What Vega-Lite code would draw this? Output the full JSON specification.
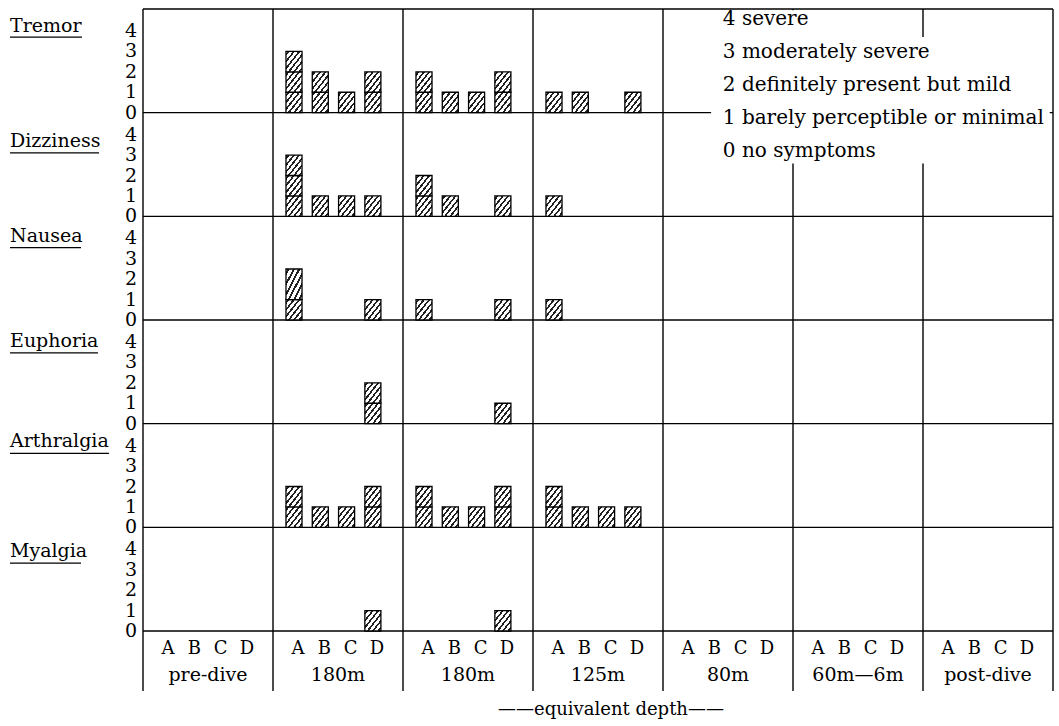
{
"$schema": "https://vega.github.io/schema/vega-lite/v6.json",
"width": 910, "height": 682,
"autosize": {"type": "none"},
"padding": {"left": 143, "top": 9, "right": 6, "bottom": 35},
"config": {"view": {"stroke": null}, "font": "DejaVu Serif", "text": {"font": "DejaVu Serif", "color": "black"}},
"datasets": {
"scores": [
{"symptom":"Tremor","stage":"180m-a","subject":"A","from":0,"to":1},
{"symptom":"Tremor","stage":"180m-a","subject":"A","from":1,"to":2},
{"symptom":"Tremor","stage":"180m-a","subject":"A","from":2,"to":3},
{"symptom":"Tremor","stage":"180m-a","subject":"B","from":0,"to":1},
{"symptom":"Tremor","stage":"180m-a","subject":"B","from":1,"to":2},
{"symptom":"Tremor","stage":"180m-a","subject":"C","from":0,"to":1},
{"symptom":"Tremor","stage":"180m-a","subject":"D","from":0,"to":1},
{"symptom":"Tremor","stage":"180m-a","subject":"D","from":1,"to":2},
{"symptom":"Tremor","stage":"180m-b","subject":"A","from":0,"to":1},
{"symptom":"Tremor","stage":"180m-b","subject":"A","from":1,"to":2},
{"symptom":"Tremor","stage":"180m-b","subject":"B","from":0,"to":1},
{"symptom":"Tremor","stage":"180m-b","subject":"C","from":0,"to":1},
{"symptom":"Tremor","stage":"180m-b","subject":"D","from":0,"to":1},
{"symptom":"Tremor","stage":"180m-b","subject":"D","from":1,"to":2},
{"symptom":"Tremor","stage":"125m","subject":"A","from":0,"to":1},
{"symptom":"Tremor","stage":"125m","subject":"B","from":0,"to":1},
{"symptom":"Tremor","stage":"125m","subject":"D","from":0,"to":1},
{"symptom":"Dizziness","stage":"180m-a","subject":"A","from":0,"to":1},
{"symptom":"Dizziness","stage":"180m-a","subject":"A","from":1,"to":2},
{"symptom":"Dizziness","stage":"180m-a","subject":"A","from":2,"to":3},
{"symptom":"Dizziness","stage":"180m-a","subject":"B","from":0,"to":1},
{"symptom":"Dizziness","stage":"180m-a","subject":"C","from":0,"to":1},
{"symptom":"Dizziness","stage":"180m-a","subject":"D","from":0,"to":1},
{"symptom":"Dizziness","stage":"180m-b","subject":"A","from":0,"to":1},
{"symptom":"Dizziness","stage":"180m-b","subject":"A","from":1,"to":2},
{"symptom":"Dizziness","stage":"180m-b","subject":"B","from":0,"to":1},
{"symptom":"Dizziness","stage":"180m-b","subject":"D","from":0,"to":1},
{"symptom":"Dizziness","stage":"125m","subject":"A","from":0,"to":1},
{"symptom":"Nausea","stage":"180m-a","subject":"A","from":0,"to":1},
{"symptom":"Nausea","stage":"180m-a","subject":"A","from":1,"to":2.5},
{"symptom":"Nausea","stage":"180m-a","subject":"D","from":0,"to":1},
{"symptom":"Nausea","stage":"180m-b","subject":"A","from":0,"to":1},
{"symptom":"Nausea","stage":"180m-b","subject":"D","from":0,"to":1},
{"symptom":"Nausea","stage":"125m","subject":"A","from":0,"to":1},
{"symptom":"Euphoria","stage":"180m-a","subject":"D","from":0,"to":1},
{"symptom":"Euphoria","stage":"180m-a","subject":"D","from":1,"to":2},
{"symptom":"Euphoria","stage":"180m-b","subject":"D","from":0,"to":1},
{"symptom":"Arthralgia","stage":"180m-a","subject":"A","from":0,"to":1},
{"symptom":"Arthralgia","stage":"180m-a","subject":"A","from":1,"to":2},
{"symptom":"Arthralgia","stage":"180m-a","subject":"B","from":0,"to":1},
{"symptom":"Arthralgia","stage":"180m-a","subject":"C","from":0,"to":1},
{"symptom":"Arthralgia","stage":"180m-a","subject":"D","from":0,"to":1},
{"symptom":"Arthralgia","stage":"180m-a","subject":"D","from":1,"to":2},
{"symptom":"Arthralgia","stage":"180m-b","subject":"A","from":0,"to":1},
{"symptom":"Arthralgia","stage":"180m-b","subject":"A","from":1,"to":2},
{"symptom":"Arthralgia","stage":"180m-b","subject":"B","from":0,"to":1},
{"symptom":"Arthralgia","stage":"180m-b","subject":"C","from":0,"to":1},
{"symptom":"Arthralgia","stage":"180m-b","subject":"D","from":0,"to":1},
{"symptom":"Arthralgia","stage":"180m-b","subject":"D","from":1,"to":2},
{"symptom":"Arthralgia","stage":"125m","subject":"A","from":0,"to":1},
{"symptom":"Arthralgia","stage":"125m","subject":"A","from":1,"to":2},
{"symptom":"Arthralgia","stage":"125m","subject":"B","from":0,"to":1},
{"symptom":"Arthralgia","stage":"125m","subject":"C","from":0,"to":1},
{"symptom":"Arthralgia","stage":"125m","subject":"D","from":0,"to":1},
{"symptom":"Myalgia","stage":"180m-a","subject":"D","from":0,"to":1},
{"symptom":"Myalgia","stage":"180m-b","subject":"D","from":0,"to":1}
],
"stages": [
{"stage":"pre-dive","label":"pre-dive"},
{"stage":"180m-a","label":"180m"},
{"stage":"180m-b","label":"180m"},
{"stage":"125m","label":"125m"},
{"stage":"80m","label":"80m"},
{"stage":"60m-6m","label":"60m—6m"},
{"stage":"post-dive","label":"post-dive"}
],
"grid": [
{"stage":"pre-dive","subject":"A"},{"stage":"pre-dive","subject":"B"},{"stage":"pre-dive","subject":"C"},{"stage":"pre-dive","subject":"D"},
{"stage":"180m-a","subject":"A"},{"stage":"180m-a","subject":"B"},{"stage":"180m-a","subject":"C"},{"stage":"180m-a","subject":"D"},
{"stage":"180m-b","subject":"A"},{"stage":"180m-b","subject":"B"},{"stage":"180m-b","subject":"C"},{"stage":"180m-b","subject":"D"},
{"stage":"125m","subject":"A"},{"stage":"125m","subject":"B"},{"stage":"125m","subject":"C"},{"stage":"125m","subject":"D"},
{"stage":"80m","subject":"A"},{"stage":"80m","subject":"B"},{"stage":"80m","subject":"C"},{"stage":"80m","subject":"D"},
{"stage":"60m-6m","subject":"A"},{"stage":"60m-6m","subject":"B"},{"stage":"60m-6m","subject":"C"},{"stage":"60m-6m","subject":"D"},
{"stage":"post-dive","subject":"A"},{"stage":"post-dive","subject":"B"},{"stage":"post-dive","subject":"C"},{"stage":"post-dive","subject":"D"}
],
"levels": [{"level":0},{"level":1},{"level":2},{"level":3},{"level":4}],
"legend": [
{"level":4,"label":"4 severe"},
{"level":3,"label":"3 moderately severe"},
{"level":2,"label":"2 definitely present but mild"},
{"level":1,"label":"1 barely perceptible or minimal"},
{"level":0,"label":"0 no symptoms"}
]
},
"resolve": {"scale": {"y": "independent"}},
"layer": [
{"data": {"name": "stages"},
 "mark": {"type": "rule", "color": "black", "strokeWidth": 1.4},
 "encoding": {"x": {"field": "stage", "type": "nominal", "bandPosition": 0,
   "scale": {"domain": ["pre-dive","180m-a","180m-b","125m","80m","60m-6m","post-dive"], "paddingInner": 0, "paddingOuter": 0},
   "axis": null}}},
{"layer": [
 {"data": {"values": [{}]}, "mark": {"type": "rule", "color": "black", "strokeWidth": 1.4},
  "encoding": {"y": {"datum": 0, "type": "quantitative", "scale": {"domain": [-28.34, 5.08], "nice": false, "zero": false}, "axis": null}}},
 {"data": {"name": "scores"}, "transform": [{"filter": "datum.symptom === 'Tremor'"}],
  "mark": {"type": "bar", "stroke": "black", "strokeWidth": 1.3, "fill": {"gradient":"linear","x1":0,"y1":0,"x2":1,"y2":1,"stops":[{"offset":0,"color":"white"},{"offset":0.05,"color":"white"},{"offset":0.05,"color":"#222"},{"offset":0.115,"color":"#222"},{"offset":0.115,"color":"white"},{"offset":0.217,"color":"white"},{"offset":0.217,"color":"#222"},{"offset":0.282,"color":"#222"},{"offset":0.282,"color":"white"},{"offset":0.383,"color":"white"},{"offset":0.383,"color":"#222"},{"offset":0.448,"color":"#222"},{"offset":0.448,"color":"white"},{"offset":0.55,"color":"white"},{"offset":0.55,"color":"#222"},{"offset":0.615,"color":"#222"},{"offset":0.615,"color":"white"},{"offset":0.717,"color":"white"},{"offset":0.717,"color":"#222"},{"offset":0.782,"color":"#222"},{"offset":0.782,"color":"white"},{"offset":0.883,"color":"white"},{"offset":0.883,"color":"#222"},{"offset":0.948,"color":"#222"},{"offset":0.948,"color":"white"},{"offset":1,"color":"white"}]}},
  "encoding": {"x": {"field": "stage", "type": "nominal", "axis": null},
   "xOffset": {"field": "subject", "type": "nominal", "scale": {"domain": ["A","B","C","D"], "paddingInner": 0.39, "paddingOuter": 0.667, "align": 0.37}},
   "y": {"field": "from", "type": "quantitative", "axis": null}, "y2": {"field": "to"}}},
 {"data": {"name": "levels"}, "mark": {"type": "text", "align": "right", "baseline": "middle", "fontSize": 19},
  "encoding": {"x": {"datum": "pre-dive", "type": "nominal", "bandPosition": -0.046, "axis": null}, "y": {"field": "level", "type": "quantitative", "axis": null}, "text": {"field": "level"}}},
 {"data": {"values": [{}]}, "mark": {"type": "text", "align": "left", "baseline": "alphabetic", "fontSize": 19},
  "encoding": {"x": {"datum": "pre-dive", "type": "nominal", "bandPosition": -1.023, "axis": null}, "y": {"datum": 3.97, "type": "quantitative", "axis": null}, "text": {"value": "Tremor"}}},
 {"data": {"values": [{}]}, "mark": {"type": "rule", "color": "black", "strokeWidth": 1.2},
  "encoding": {"x": {"datum": "pre-dive", "type": "nominal", "bandPosition": -1.023, "axis": null}, "x2": {"datum": "pre-dive", "bandPosition": -0.469}, "y": {"datum": 3.7, "type": "quantitative", "axis": null}}}
]},
{"layer": [
 {"data": {"values": [{}]}, "mark": {"type": "rule", "color": "black", "strokeWidth": 1.4},
  "encoding": {"y": {"datum": 0, "type": "quantitative", "scale": {"domain": [-23.26, 10.16], "nice": false, "zero": false}, "axis": null}}},
 {"data": {"name": "scores"}, "transform": [{"filter": "datum.symptom === 'Dizziness'"}],
  "mark": {"type": "bar", "stroke": "black", "strokeWidth": 1.3, "fill": {"gradient":"linear","x1":0,"y1":0,"x2":1,"y2":1,"stops":[{"offset":0,"color":"white"},{"offset":0.05,"color":"white"},{"offset":0.05,"color":"#222"},{"offset":0.115,"color":"#222"},{"offset":0.115,"color":"white"},{"offset":0.217,"color":"white"},{"offset":0.217,"color":"#222"},{"offset":0.282,"color":"#222"},{"offset":0.282,"color":"white"},{"offset":0.383,"color":"white"},{"offset":0.383,"color":"#222"},{"offset":0.448,"color":"#222"},{"offset":0.448,"color":"white"},{"offset":0.55,"color":"white"},{"offset":0.55,"color":"#222"},{"offset":0.615,"color":"#222"},{"offset":0.615,"color":"white"},{"offset":0.717,"color":"white"},{"offset":0.717,"color":"#222"},{"offset":0.782,"color":"#222"},{"offset":0.782,"color":"white"},{"offset":0.883,"color":"white"},{"offset":0.883,"color":"#222"},{"offset":0.948,"color":"#222"},{"offset":0.948,"color":"white"},{"offset":1,"color":"white"}]}},
  "encoding": {"x": {"field": "stage", "type": "nominal", "axis": null}, "xOffset": {"field": "subject", "type": "nominal"},
   "y": {"field": "from", "type": "quantitative", "axis": null}, "y2": {"field": "to"}}},
 {"data": {"name": "levels"}, "mark": {"type": "text", "align": "right", "baseline": "middle", "fontSize": 19},
  "encoding": {"x": {"datum": "pre-dive", "type": "nominal", "bandPosition": -0.046, "axis": null}, "y": {"field": "level", "type": "quantitative", "axis": null}, "text": {"field": "level"}}},
 {"data": {"values": [{}]}, "mark": {"type": "text", "align": "left", "baseline": "alphabetic", "fontSize": 19},
  "encoding": {"x": {"datum": "pre-dive", "type": "nominal", "bandPosition": -1.023, "axis": null}, "y": {"datum": 3.38, "type": "quantitative", "axis": null}, "text": {"value": "Dizziness"}}},
 {"data": {"values": [{}]}, "mark": {"type": "rule", "color": "black", "strokeWidth": 1.2},
  "encoding": {"x": {"datum": "pre-dive", "type": "nominal", "bandPosition": -1.023, "axis": null}, "x2": {"datum": "pre-dive", "bandPosition": -0.338}, "y": {"datum": 3.11, "type": "quantitative", "axis": null}}}
]},
{"layer": [
 {"data": {"values": [{}]}, "mark": {"type": "rule", "color": "black", "strokeWidth": 1.4},
  "encoding": {"y": {"datum": 0, "type": "quantitative", "scale": {"domain": [-18.18, 15.24], "nice": false, "zero": false}, "axis": null}}},
 {"data": {"name": "scores"}, "transform": [{"filter": "datum.symptom === 'Nausea'"}],
  "mark": {"type": "bar", "stroke": "black", "strokeWidth": 1.3, "fill": {"gradient":"linear","x1":0,"y1":0,"x2":1,"y2":1,"stops":[{"offset":0,"color":"white"},{"offset":0.05,"color":"white"},{"offset":0.05,"color":"#222"},{"offset":0.115,"color":"#222"},{"offset":0.115,"color":"white"},{"offset":0.217,"color":"white"},{"offset":0.217,"color":"#222"},{"offset":0.282,"color":"#222"},{"offset":0.282,"color":"white"},{"offset":0.383,"color":"white"},{"offset":0.383,"color":"#222"},{"offset":0.448,"color":"#222"},{"offset":0.448,"color":"white"},{"offset":0.55,"color":"white"},{"offset":0.55,"color":"#222"},{"offset":0.615,"color":"#222"},{"offset":0.615,"color":"white"},{"offset":0.717,"color":"white"},{"offset":0.717,"color":"#222"},{"offset":0.782,"color":"#222"},{"offset":0.782,"color":"white"},{"offset":0.883,"color":"white"},{"offset":0.883,"color":"#222"},{"offset":0.948,"color":"#222"},{"offset":0.948,"color":"white"},{"offset":1,"color":"white"}]}},
  "encoding": {"x": {"field": "stage", "type": "nominal", "axis": null}, "xOffset": {"field": "subject", "type": "nominal"},
   "y": {"field": "from", "type": "quantitative", "axis": null}, "y2": {"field": "to"}}},
 {"data": {"name": "levels"}, "mark": {"type": "text", "align": "right", "baseline": "middle", "fontSize": 19},
  "encoding": {"x": {"datum": "pre-dive", "type": "nominal", "bandPosition": -0.046, "axis": null}, "y": {"field": "level", "type": "quantitative", "axis": null}, "text": {"field": "level"}}},
 {"data": {"values": [{}]}, "mark": {"type": "text", "align": "left", "baseline": "alphabetic", "fontSize": 19},
  "encoding": {"x": {"datum": "pre-dive", "type": "nominal", "bandPosition": -1.023, "axis": null}, "y": {"datum": 3.82, "type": "quantitative", "axis": null}, "text": {"value": "Nausea"}}},
 {"data": {"values": [{}]}, "mark": {"type": "rule", "color": "black", "strokeWidth": 1.2},
  "encoding": {"x": {"datum": "pre-dive", "type": "nominal", "bandPosition": -1.023, "axis": null}, "x2": {"datum": "pre-dive", "bandPosition": -0.477}, "y": {"datum": 3.55, "type": "quantitative", "axis": null}}}
]},
{"layer": [
 {"data": {"values": [{}]}, "mark": {"type": "rule", "color": "black", "strokeWidth": 1.4},
  "encoding": {"y": {"datum": 0, "type": "quantitative", "scale": {"domain": [-13.10, 20.32], "nice": false, "zero": false}, "axis": null}}},
 {"data": {"name": "scores"}, "transform": [{"filter": "datum.symptom === 'Euphoria'"}],
  "mark": {"type": "bar", "stroke": "black", "strokeWidth": 1.3, "fill": {"gradient":"linear","x1":0,"y1":0,"x2":1,"y2":1,"stops":[{"offset":0,"color":"white"},{"offset":0.05,"color":"white"},{"offset":0.05,"color":"#222"},{"offset":0.115,"color":"#222"},{"offset":0.115,"color":"white"},{"offset":0.217,"color":"white"},{"offset":0.217,"color":"#222"},{"offset":0.282,"color":"#222"},{"offset":0.282,"color":"white"},{"offset":0.383,"color":"white"},{"offset":0.383,"color":"#222"},{"offset":0.448,"color":"#222"},{"offset":0.448,"color":"white"},{"offset":0.55,"color":"white"},{"offset":0.55,"color":"#222"},{"offset":0.615,"color":"#222"},{"offset":0.615,"color":"white"},{"offset":0.717,"color":"white"},{"offset":0.717,"color":"#222"},{"offset":0.782,"color":"#222"},{"offset":0.782,"color":"white"},{"offset":0.883,"color":"white"},{"offset":0.883,"color":"#222"},{"offset":0.948,"color":"#222"},{"offset":0.948,"color":"white"},{"offset":1,"color":"white"}]}},
  "encoding": {"x": {"field": "stage", "type": "nominal", "axis": null}, "xOffset": {"field": "subject", "type": "nominal"},
   "y": {"field": "from", "type": "quantitative", "axis": null}, "y2": {"field": "to"}}},
 {"data": {"name": "levels"}, "mark": {"type": "text", "align": "right", "baseline": "middle", "fontSize": 19},
  "encoding": {"x": {"datum": "pre-dive", "type": "nominal", "bandPosition": -0.046, "axis": null}, "y": {"field": "level", "type": "quantitative", "axis": null}, "text": {"field": "level"}}},
 {"data": {"values": [{}]}, "mark": {"type": "text", "align": "left", "baseline": "alphabetic", "fontSize": 19},
  "encoding": {"x": {"datum": "pre-dive", "type": "nominal", "bandPosition": -1.023, "axis": null}, "y": {"datum": 3.77, "type": "quantitative", "axis": null}, "text": {"value": "Euphoria"}}},
 {"data": {"values": [{}]}, "mark": {"type": "rule", "color": "black", "strokeWidth": 1.2},
  "encoding": {"x": {"datum": "pre-dive", "type": "nominal", "bandPosition": -1.023, "axis": null}, "x2": {"datum": "pre-dive", "bandPosition": -0.346}, "y": {"datum": 3.47, "type": "quantitative", "axis": null}}}
]},
{"layer": [
 {"data": {"values": [{}]}, "mark": {"type": "rule", "color": "black", "strokeWidth": 1.4},
  "encoding": {"y": {"datum": 0, "type": "quantitative", "scale": {"domain": [-8.02, 25.40], "nice": false, "zero": false}, "axis": null}}},
 {"data": {"name": "scores"}, "transform": [{"filter": "datum.symptom === 'Arthralgia'"}],
  "mark": {"type": "bar", "stroke": "black", "strokeWidth": 1.3, "fill": {"gradient":"linear","x1":0,"y1":0,"x2":1,"y2":1,"stops":[{"offset":0,"color":"white"},{"offset":0.05,"color":"white"},{"offset":0.05,"color":"#222"},{"offset":0.115,"color":"#222"},{"offset":0.115,"color":"white"},{"offset":0.217,"color":"white"},{"offset":0.217,"color":"#222"},{"offset":0.282,"color":"#222"},{"offset":0.282,"color":"white"},{"offset":0.383,"color":"white"},{"offset":0.383,"color":"#222"},{"offset":0.448,"color":"#222"},{"offset":0.448,"color":"white"},{"offset":0.55,"color":"white"},{"offset":0.55,"color":"#222"},{"offset":0.615,"color":"#222"},{"offset":0.615,"color":"white"},{"offset":0.717,"color":"white"},{"offset":0.717,"color":"#222"},{"offset":0.782,"color":"#222"},{"offset":0.782,"color":"white"},{"offset":0.883,"color":"white"},{"offset":0.883,"color":"#222"},{"offset":0.948,"color":"#222"},{"offset":0.948,"color":"white"},{"offset":1,"color":"white"}]}},
  "encoding": {"x": {"field": "stage", "type": "nominal", "axis": null}, "xOffset": {"field": "subject", "type": "nominal"},
   "y": {"field": "from", "type": "quantitative", "axis": null}, "y2": {"field": "to"}}},
 {"data": {"name": "levels"}, "mark": {"type": "text", "align": "right", "baseline": "middle", "fontSize": 19},
  "encoding": {"x": {"datum": "pre-dive", "type": "nominal", "bandPosition": -0.046, "axis": null}, "y": {"field": "level", "type": "quantitative", "axis": null}, "text": {"field": "level"}}},
 {"data": {"values": [{}]}, "mark": {"type": "text", "align": "left", "baseline": "alphabetic", "fontSize": 19},
  "encoding": {"x": {"datum": "pre-dive", "type": "nominal", "bandPosition": -1.023, "axis": null}, "y": {"datum": 3.92, "type": "quantitative", "axis": null}, "text": {"value": "Arthralgia"}}},
 {"data": {"values": [{}]}, "mark": {"type": "rule", "color": "black", "strokeWidth": 1.2},
  "encoding": {"x": {"datum": "pre-dive", "type": "nominal", "bandPosition": -1.023, "axis": null}, "x2": {"datum": "pre-dive", "bandPosition": -0.262}, "y": {"datum": 3.62, "type": "quantitative", "axis": null}}}
]},
{"layer": [
 {"data": {"values": [{}]}, "mark": {"type": "rule", "color": "black", "strokeWidth": 1.4},
  "encoding": {"y": {"datum": 0, "type": "quantitative", "scale": {"domain": [-2.94, 30.48], "nice": false, "zero": false}, "axis": null}}},
 {"data": {"name": "scores"}, "transform": [{"filter": "datum.symptom === 'Myalgia'"}],
  "mark": {"type": "bar", "stroke": "black", "strokeWidth": 1.3, "fill": {"gradient":"linear","x1":0,"y1":0,"x2":1,"y2":1,"stops":[{"offset":0,"color":"white"},{"offset":0.05,"color":"white"},{"offset":0.05,"color":"#222"},{"offset":0.115,"color":"#222"},{"offset":0.115,"color":"white"},{"offset":0.217,"color":"white"},{"offset":0.217,"color":"#222"},{"offset":0.282,"color":"#222"},{"offset":0.282,"color":"white"},{"offset":0.383,"color":"white"},{"offset":0.383,"color":"#222"},{"offset":0.448,"color":"#222"},{"offset":0.448,"color":"white"},{"offset":0.55,"color":"white"},{"offset":0.55,"color":"#222"},{"offset":0.615,"color":"#222"},{"offset":0.615,"color":"white"},{"offset":0.717,"color":"white"},{"offset":0.717,"color":"#222"},{"offset":0.782,"color":"#222"},{"offset":0.782,"color":"white"},{"offset":0.883,"color":"white"},{"offset":0.883,"color":"#222"},{"offset":0.948,"color":"#222"},{"offset":0.948,"color":"white"},{"offset":1,"color":"white"}]}},
  "encoding": {"x": {"field": "stage", "type": "nominal", "axis": null}, "xOffset": {"field": "subject", "type": "nominal"},
   "y": {"field": "from", "type": "quantitative", "axis": null}, "y2": {"field": "to"}}},
 {"data": {"name": "levels"}, "mark": {"type": "text", "align": "right", "baseline": "middle", "fontSize": 19},
  "encoding": {"x": {"datum": "pre-dive", "type": "nominal", "bandPosition": -0.046, "axis": null}, "y": {"field": "level", "type": "quantitative", "axis": null}, "text": {"field": "level"}}},
 {"data": {"values": [{}]}, "mark": {"type": "text", "align": "left", "baseline": "alphabetic", "fontSize": 19},
  "encoding": {"x": {"datum": "pre-dive", "type": "nominal", "bandPosition": -1.023, "axis": null}, "y": {"datum": 3.63, "type": "quantitative", "axis": null}, "text": {"value": "Myalgia"}}},
 {"data": {"values": [{}]}, "mark": {"type": "rule", "color": "black", "strokeWidth": 1.2},
  "encoding": {"x": {"datum": "pre-dive", "type": "nominal", "bandPosition": -1.023, "axis": null}, "x2": {"datum": "pre-dive", "bandPosition": -0.477}, "y": {"datum": 3.33, "type": "quantitative", "axis": null}}},
 {"data": {"name": "grid"}, "mark": {"type": "text", "fontSize": 18, "baseline": "middle", "dx": 4},
  "encoding": {"x": {"field": "stage", "type": "nominal", "axis": null}, "xOffset": {"field": "subject", "type": "nominal"}, "y": {"datum": -0.88, "type": "quantitative", "axis": null}, "text": {"field": "subject"}}},
 {"data": {"name": "stages"}, "mark": {"type": "text", "fontSize": 19, "baseline": "middle"},
  "encoding": {"x": {"field": "stage", "type": "nominal", "axis": null}, "y": {"datum": -2.16, "type": "quantitative", "axis": null}, "text": {"field": "label"}}},
 {"data": {"values": [{}]}, "mark": {"type": "text", "fontSize": 18, "baseline": "alphabetic", "align": "center"},
  "encoding": {"x": {"datum": "125m", "type": "nominal", "bandPosition": 0.6, "axis": null}, "y": {"datum": -4.12, "type": "quantitative", "axis": null}, "text": {"value": "——equivalent depth——"}}}
]},
{"layer": [
 {"data": {"values": [{}]}, "mark": {"type": "rect", "fill": "white"},
  "encoding": {"x": {"datum": "80m", "type": "nominal", "bandPosition": 0.37, "axis": null}, "x2": {"datum": "60m-6m", "bandPosition": 0.86},
   "y": {"datum": 4.45, "type": "quantitative", "scale": {"domain": [-16.18, 4.485], "nice": false, "zero": false}, "axis": null}, "y2": {"datum": 3.64}}},
 {"data": {"values": [{}]}, "mark": {"type": "rect", "fill": "white"},
  "encoding": {"x": {"datum": "80m", "type": "nominal", "bandPosition": 0.37, "axis": null}, "x2": {"datum": "post-dive", "bandPosition": 0.975},
   "y": {"datum": 3.64, "type": "quantitative", "axis": null}, "y2": {"datum": -0.2}}},
 {"data": {"name": "legend"}, "mark": {"type": "text", "align": "left", "baseline": "alphabetic", "fontSize": 20},
  "encoding": {"x": {"datum": "80m", "type": "nominal", "bandPosition": 0.46, "axis": null}, "y": {"field": "level", "type": "quantitative", "axis": null}, "text": {"field": "label"}}},
 {"data": {"values": [{}]}, "mark": {"type": "rule", "color": "black", "strokeWidth": 1.4},
  "encoding": {"y": {"datum": 4.485, "type": "quantitative", "axis": null}}},
 {"data": {"values": [{}]}, "mark": {"type": "rule", "color": "black", "strokeWidth": 1.4},
  "encoding": {"x": {"datum": "post-dive", "type": "nominal", "bandPosition": 1, "axis": null}}}
]}
]
}
